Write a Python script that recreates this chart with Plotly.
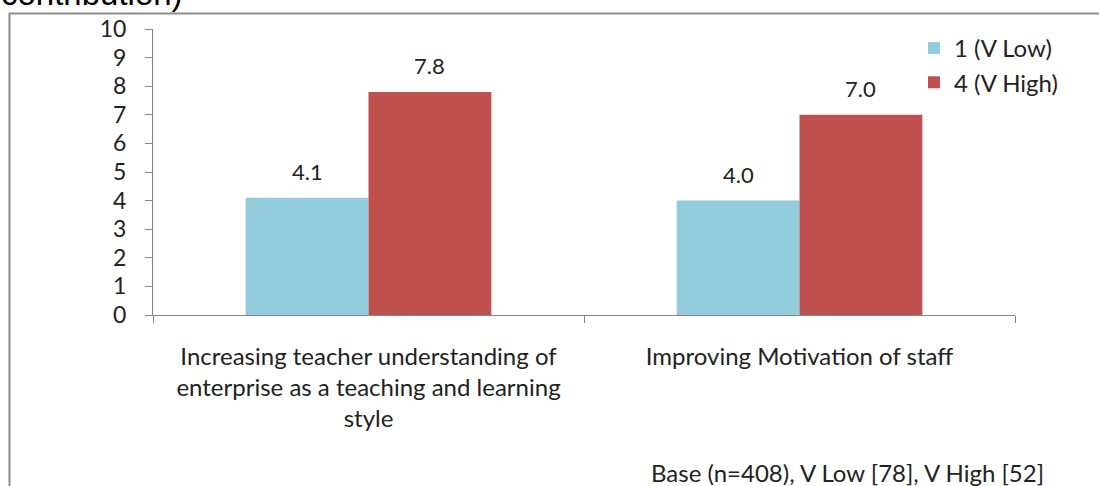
import plotly.graph_objects as go

categories = [
    "Increasing teacher understanding of<br>enterprise as a teaching and learning<br>style",
    "Improving Motivation of staff",
]
series_names = ["1 (V Low)", "4 (V High)"]
v_low = [4.1, 4.0]
v_high = [7.8, 7.0]
colors = ["#93CDDD", "#C0504D"]
title_text = "contribution)"
footnote = "Base (n=408), V Low [78], V High [52]"
y_ticks = list(range(0, 11))

W, H = 1099, 486
L, R, T, B = 153, 84, 29, 171
pw, ph = W - L - R, H - T - B
BARGAP = 0.43

def px_x(p):
    return (p - L) / pw

def px_y(p):
    return (H - B - p) / ph

FONT = "Lato, 'Open Sans', sans-serif"
TXT = "#222222"

fig = go.Figure()
for name, vals, col in zip(series_names, [v_low, v_high], colors):
    fig.add_trace(go.Bar(
        x=categories, y=vals, name=name, marker_color=col,
        marker_line_width=0, legendgroup=name,
    ))

# value labels above bars
bar_px = (1 - BARGAP) * pw / len(categories) / 2
for si, vals in enumerate([v_low, v_high]):
    shift = (si - 0.5) * bar_px
    for c, v in zip(categories, vals):
        fig.add_annotation(x=c, y=v, xref="x", yref="y", text=f"{v:.1f}",
                           showarrow=False, xshift=shift, yshift=26,
                           xanchor="center", yanchor="middle",
                           font=dict(size=22, family=FONT, color=TXT))

fig.update_layout(
    width=W, height=H,
    margin=dict(l=L, r=R, t=T, b=B),
    paper_bgcolor="white", plot_bgcolor="white",
    barmode="group", bargap=BARGAP, bargroupgap=0,
    font=dict(family=FONT, color=TXT),
    showlegend=True,
    legend=dict(x=px_x(914), y=px_y(26), xanchor="left", yanchor="top",
                font=dict(size=24, family=FONT, color=TXT),
                bgcolor="rgba(0,0,0,0)", tracegroupgap=0),
)
fig.update_xaxes(
    showline=True, linecolor="#868686", linewidth=1,
    ticks="outside", tickson="boundaries", ticklen=7, tickcolor="#868686",
    tickfont=dict(size=24, family=FONT, color=TXT),
    ticklabelstandoff=20,
    showgrid=False, zeroline=False,
)
fig.update_yaxes(
    range=[0, 10], tickvals=y_ticks,
    showline=True, linecolor="#868686", linewidth=1,
    ticks="outside", ticklen=7, tickcolor="#868686",
    tickfont=dict(size=23, family=FONT, color=TXT),
    ticklabelstandoff=14,
    showgrid=False, zeroline=False,
)
fig.add_shape(type="rect", xref="paper", yref="paper",
              x0=px_x(9.5), y0=px_y(13.5), x1=px_x(1110), y1=px_y(500),
              line=dict(color="#8C8C8C", width=2), fillcolor="rgba(0,0,0,0)",
              layer="below")
fig.add_annotation(text=footnote, xref="paper", yref="paper",
                   x=px_x(847), y=px_y(472), xanchor="center", yanchor="middle",
                   showarrow=False, font=dict(size=24, family=FONT, color=TXT))
fig.add_annotation(text=title_text, xref="paper", yref="paper",
                   x=px_x(-1), y=px_y(-6.5), xanchor="left", yanchor="middle",
                   showarrow=False,
                   font=dict(size=33, family="Liberation Sans, Arial, sans-serif", color="#000"))

fig.write_html("out.html", config={"displayModeBar": False},
               post_script="document.body.style.margin='0px';")
